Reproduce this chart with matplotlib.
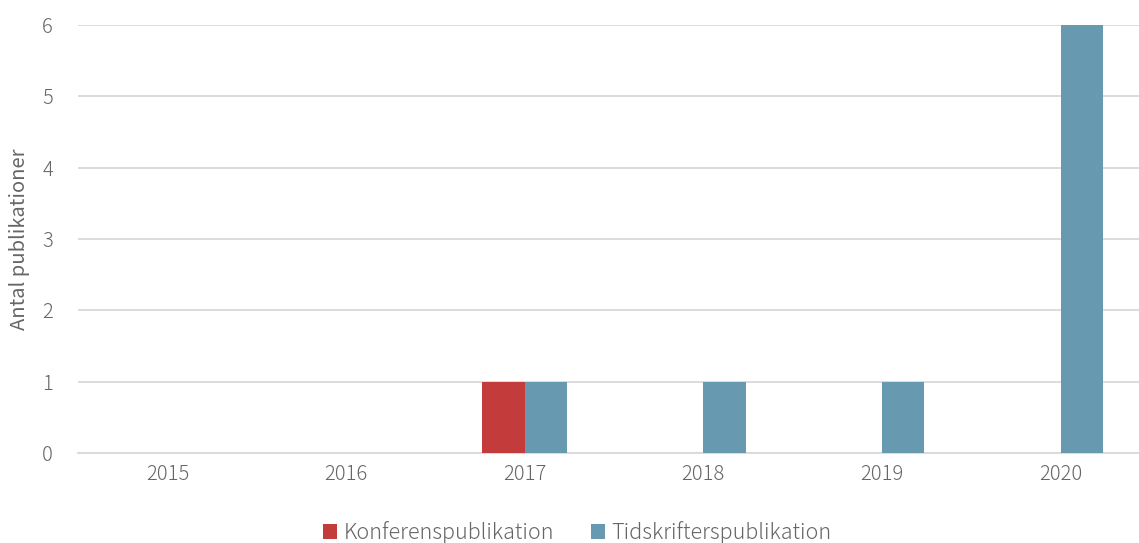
import numpy as np
import matplotlib.pyplot as plt

years = ['2015', '2016', '2017', '2018', '2019', '2020']
konferens = [0, 0, 1, 0, 0, 0]
tidskrift = [0, 0, 1, 1, 1, 6]

plt.rcParams['font.family'] = ['Noto Sans CJK JP', 'DejaVu Sans']
plt.rcParams['font.weight'] = 'light'
txt = '#666666'

fig = plt.figure(figsize=(11.39, 5.43), dpi=100)
ax = fig.add_axes([0.0685, 0.166, 0.941, 0.788])

x = np.arange(len(years))
w = 0.237
ax.bar(x - w / 2, konferens, w, color='#C43B3B', label='Konferenspublikation', zorder=3)
ax.bar(x + w / 2, tidskrift, w, color='#6799B0', label='Tidskrifterspublikation', zorder=3)

ax.set_xlim(-0.5, 5.5)
ax.set_ylim(0, 6)
ax.set_xticks(x)
ax.set_xticklabels(years)
ax.set_yticks(range(7))
ax.yaxis.grid(True, color='#D9D9D9', linewidth=1.3, zorder=0)
for s in ['top', 'right', 'left']:
    ax.spines[s].set_visible(False)
ax.spines['bottom'].set_color('#D9D9D9')
ax.spines['bottom'].set_linewidth(1.3)
ax.tick_params(length=0, labelsize=14.5, colors=txt)
ax.tick_params(axis='x', pad=8)
ax.tick_params(axis='y', pad=18)
ax.set_ylabel('Antal publikationer', fontsize=14.5, color=txt, labelpad=9)

leg = ax.legend(loc='lower center', bbox_to_anchor=(0.466, -0.258), ncol=2, frameon=False,
                fontsize=15.5, handlelength=0.65, handleheight=0.65, handletextpad=0.3,
                columnspacing=1.7)
for t in leg.get_texts():
    t.set_color(txt)

plt.savefig('out.png', dpi=100)
